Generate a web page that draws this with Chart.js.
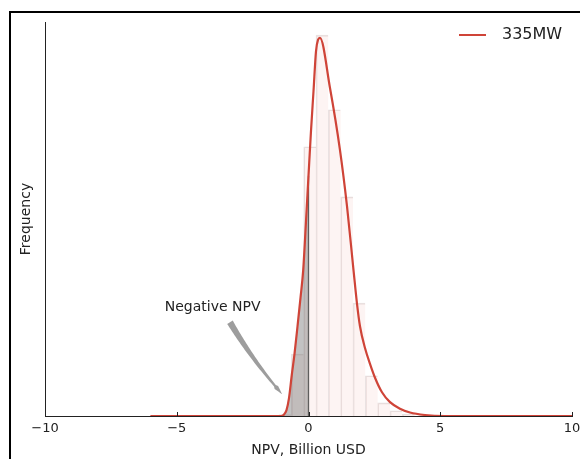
<!DOCTYPE html>
<html><head><meta charset="utf-8">
<script src="https://cdn.jsdelivr.net/npm/chart.js@4.4.1/dist/chart.umd.min.js"></script>
<style>
html,body{margin:0;padding:0;background:#fff;}
#wrap{position:relative;width:580px;height:459px;overflow:hidden;background:#fff;}
#frame{position:absolute;left:9px;top:11px;width:600px;height:500px;border-left:2px solid #000;border-top:2px solid #000;pointer-events:none;}
canvas{position:absolute;left:0;top:0;}
</style></head><body>
<div id="wrap"><canvas id="c" width="580" height="459"></canvas><div id="frame"></div></div>
<script>
// ---- data ----
const binEdges   = [-1.121,-0.653,-0.182,0.285,0.751,1.222,1.689,2.156,2.626,3.093,3.56,4.03];
const binDensity = [0.002,0.094,0.408,0.577,0.464,0.332,0.171,0.061,0.020,0.008,0.003];
const curveX = [-6.0,-1.3,-1.044,-0.949,-0.835,-0.740,-0.638,-0.531,-0.417,-0.304,-0.201,-0.095,0,0.095,0.190,0.285,0.361,0.436,
                0.816,1.195,1.461,1.708,1.841,1.954,2.144,2.334,2.524,2.789,3.093,3.472,3.852,4.421,5.18,10.0];
const curveY = [0,0,0,0.0015,0.009,0.027,0.061,0.094,0.136,0.179,0.221,0.295,0.364,0.432,0.492,0.553,0.570,0.573,
                0.497,0.403,0.318,0.221,0.170,0.136,0.103,0.079,0.058,0.036,0.021,0.011,0.0053,0.0015,0,0];
const xTicks = [-10,-5,0,5,10];
const seriesName = '335MW';
const xTitle = 'NPV, Billion USD';
const yTitle = 'Frequency';
const annotationText = 'Negative NPV';
const annotationAt = [-3.64, 0.164];
const arrowFrom = [-2.98, 0.142];
const arrowTo = [-1.0, 0.033];
const yMax = 0.597;

// ---- derived ----
const barData = binDensity.map((d,i)=>({x:(binEdges[i]+binEdges[i+1])/2, y:d}));
const curveData = curveX.map((x,i)=>({x:x, y:curveY[i]}));
const negData = curveData.filter(p=>p.x<=0);
const zeroVal = curveY[curveX.indexOf(0)];
const zeroLine = [{x:0,y:0},{x:0,y:zeroVal}];

const FONT = "'DejaVu Sans', sans-serif";
const RED = '#cf4438';
const TXT = '#222';

const overlay = {
  id:'overlay',
  afterDraw(chart){
    const ctx = chart.ctx, xs = chart.scales.x, ys = chart.scales.y, ca = chart.chartArea;
    ctx.save();
    ctx.strokeStyle = '#222'; ctx.lineWidth = 1;
    xTicks.forEach(v=>{
      const px = Math.round(xs.getPixelForValue(v))+0.5;
      ctx.beginPath(); ctx.moveTo(px, ca.bottom); ctx.lineTo(px, ca.bottom-4); ctx.stroke();
    });
    const ly = ca.top + 13;
    ctx.strokeStyle = RED; ctx.lineWidth = 2;
    ctx.beginPath(); ctx.moveTo(ca.right-113, ly); ctx.lineTo(ca.right-86, ly); ctx.stroke();
    ctx.fillStyle = TXT; ctx.font = "16px " + FONT; ctx.textBaseline='middle'; ctx.textAlign='left';
    ctx.fillText(seriesName, ca.right-70, ly);
    ctx.font = "14px " + FONT; ctx.textAlign='center';
    ctx.fillText(annotationText, xs.getPixelForValue(annotationAt[0]), ys.getPixelForValue(annotationAt[1]));
    const x0 = xs.getPixelForValue(arrowFrom[0]), y0 = ys.getPixelForValue(arrowFrom[1]);
    const x2 = xs.getPixelForValue(arrowTo[0]),   y2 = ys.getPixelForValue(arrowTo[1]);
    const dx = x2-x0, dy = y2-y0, L = Math.hypot(dx,dy);
    const nx = -dy/L, ny = dx/L;
    const cx = (x0+x2)/2 + nx*4, cy = (y0+y2)/2 + ny*4;
    const N = 40, left=[], right=[];
    const hs = 0.88;
    for(let i=0;i<=N;i++){
      const t=i/N;
      const px=(1-t)*(1-t)*x0+2*(1-t)*t*cx+t*t*x2;
      const py=(1-t)*(1-t)*y0+2*(1-t)*t*cy+t*t*y2;
      const tx=2*(1-t)*(cx-x0)+2*t*(x2-cx), ty=2*(1-t)*(cy-y0)+2*t*(y2-cy);
      const tl=Math.hypot(tx,ty); const ux=-ty/tl, uy=tx/tl;
      let w;
      if(t<hs) w = 6.5 - (6.5-2.2)*(t/hs);
      else w = 5.5*(1-(t-hs)/(1-hs));
      left.push([px+ux*w/2, py+uy*w/2]); right.push([px-ux*w/2, py-uy*w/2]);
    }
    ctx.fillStyle = 'rgba(140,140,140,0.85)';
    ctx.beginPath();
    ctx.moveTo(left[0][0], left[0][1]);
    left.forEach(p=>ctx.lineTo(p[0],p[1]));
    for(let i=right.length-1;i>=0;i--) ctx.lineTo(right[i][0], right[i][1]);
    ctx.closePath(); ctx.fill();
    ctx.restore();
  }
};

new Chart(document.getElementById('c'), {
  type:'bar',
  data:{
    datasets:[
      {type:'line', label:seriesName, data:curveData, borderColor:RED, borderWidth:2.2, pointRadius:0,
       cubicInterpolationMode:'monotone', fill:false, order:0},
      {type:'line', label:'neg', data:negData, borderWidth:0, pointRadius:0, cubicInterpolationMode:'monotone',
       fill:'origin', backgroundColor:'rgba(110,110,110,0.42)', order:2},
      {type:'line', label:'zero', data:zeroLine, borderColor:'rgba(70,70,70,0.85)', borderWidth:1.3, pointRadius:0, fill:false, order:1},
      {type:'bar', label:'hist', data:barData, backgroundColor:'rgba(226,74,51,0.06)',
       borderColor:'rgba(175,150,150,0.28)', borderWidth:{left:1,top:1,right:0,bottom:0}, borderSkipped:false,
       barPercentage:1, categoryPercentage:1, order:3}
    ]
  },
  options:{
    responsive:false, animation:false, devicePixelRatio:1,
    layout:{padding:{top:22,right:0,left:0,bottom:0}},
    plugins:{legend:{display:false}, tooltip:{enabled:false}},
    scales:{
      x:{type:'linear', min:-10, max:10, offset:false,
         afterBuildTicks(s){ s.ticks = xTicks.map(v=>({value:v})); },
         afterFit(s){ s.height = 43; s.paddingRight = 8; s.paddingLeft = 0; },
         grid:{display:false, drawTicks:false},
         border:{display:true, color:'#222', width:1},
         ticks:{color:TXT, font:{family:FONT, size:13}, padding:5, maxRotation:0,
                callback:(v)=> v<0 ? '\u2212'+Math.abs(v) : String(v)},
         title:{display:true, text:xTitle, color:TXT, font:{family:FONT, size:14}, padding:{top:0,bottom:0}}
      },
      y:{type:'linear', min:0, max:yMax,
         afterFit(s){ s.width = 45; },
         grid:{display:false, drawTicks:false},
         border:{display:true, color:'#222', width:1},
         ticks:{display:false},
         title:{display:true, text:yTitle, color:TXT, font:{family:FONT, size:14}, padding:{top:18,bottom:0}}
      }
    }
  },
  plugins:[overlay]
});
</script>
</body></html>
